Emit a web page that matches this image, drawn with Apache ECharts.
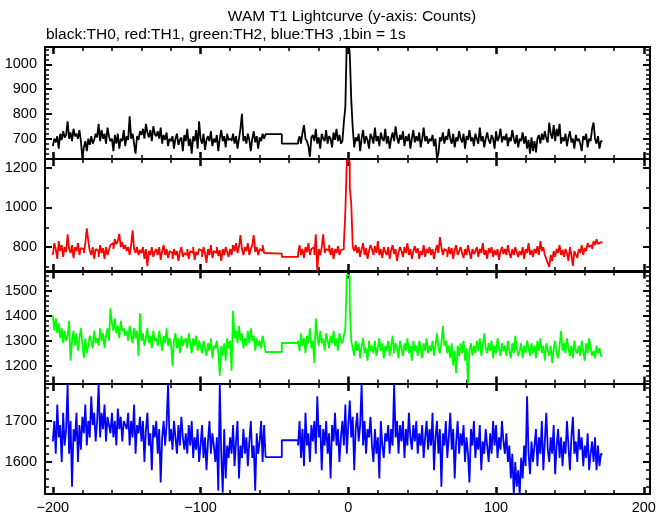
<!DOCTYPE html>
<html><head><meta charset="utf-8">
<script src="https://cdn.jsdelivr.net/npm/echarts@6/dist/echarts.min.js"></script>
<style>html,body{margin:0;padding:0;background:#fff}#c{width:669px;height:515px}</style>
</head><body><div id="c"></div>
<script>
// ---- DATA (1 s bins) ----
const preStart = -200;          // first bin before data gap
const gapTimes = [-56, -45];    // two long bins across the gap
const postStart = -34;          // first bin after gap
const xTickLabels = [-200, -100, 0, 100, 200];

const th0Pre = [
670,700,685,710,660,720,695,730,705,715,
770,700,725,690,740,710,720,700,735,690,
620,665,690,650,700,675,710,680,695,720,
705,760,690,735,700,720,680,745,710,690,
700,650,715,680,720,660,700,690,735,670,
710,695,790,700,720,680,640,710,695,730,
715,740,700,760,725,705,735,690,750,720,
710,730,700,745,680,715,695,725,670,700,
690,710,660,700,720,675,695,705,650,715,
690,740,670,700,640,710,690,735,660,770,
700,680,720,655,695,710,690,730,670,700,
685,715,650,700,735,690,710,665,720,695,
700,690,720,680,710,660,700,740,800,690,
710,680,720,695,650,700,730,685,710,660,
705,690,720,700];
const th0Gap = [718, 680];
const th0Post = [
690,710,680,725,755,700,690,670,627,705,
715,690,740,680,705,660,720,700,690,735,
680,710,700,665,725,695,740,690,715,680,
690,768,829,1110,1100,1040,856,743,665,705,
690,720,650,700,735,680,710,695,660,720,
705,680,745,690,710,670,725,700,690,740,
680,710,660,700,725,690,750,705,680,715,
695,730,670,710,690,720,660,700,735,685,
710,690,725,665,700,745,690,710,680,700,
690,715,670,700,620,640,705,690,725,680,
710,695,740,700,680,720,665,705,690,730,
700,685,720,660,710,695,735,690,705,670,
720,700,680,745,690,710,665,700,725,695,
680,715,700,660,730,690,705,740,685,710,
695,720,670,705,690,735,700,680,715,665,
700,690,725,680,710,660,695,640,705,650,
690,645,700,715,680,720,695,730,700,685,
765,720,700,755,690,740,710,760,680,705,
690,720,670,705,730,685,700,660,715,690,
700,680,650,710,695,720,665,700,690,740,
765,700,680,710,660,690];

const th1Pre = [
760,820,790,740,830,780,810,750,800,775,
864,790,770,810,745,800,780,820,760,795,
790,770,820,894,830,780,760,800,740,790,
780,750,810,770,795,740,800,760,785,810,
820,790,840,815,830,867,800,825,790,810,
780,800,760,810,884,790,770,800,760,785,
770,800,740,790,704,780,760,800,750,775,
790,760,800,735,780,810,760,790,745,780,
770,740,790,760,780,730,775,800,750,770,
760,790,740,780,770,800,735,775,760,790,
780,750,800,770,720,790,760,810,745,780,
770,800,755,785,730,790,760,800,775,750,
790,760,810,780,820,770,800,860,790,760,
800,780,820,760,790,810,860,775,800,760,
790,780,810,770];
const th1Gap = [767, 750];
const th1Post = [
770,810,760,790,745,800,775,820,760,790,
800,760,864,679,790,760,800,864,770,790,
780,810,760,795,740,790,770,805,760,785,
790,820,981,1240,1230,1100,1020,800,780,810,
770,800,750,790,820,760,795,740,780,810,
790,760,805,770,830,760,790,745,800,775,
760,800,740,785,810,765,790,730,775,800,
780,750,800,770,820,760,790,740,780,805,
770,795,740,780,760,810,750,790,770,800,
760,790,740,780,810,770,850,800,760,790,
780,750,800,765,795,740,785,810,760,780,
800,770,745,790,760,810,775,740,790,765,
780,800,750,790,770,820,760,785,740,795,
770,800,750,785,760,790,735,780,800,765,
790,760,810,770,745,790,760,800,775,750,
780,760,800,740,790,770,820,760,785,750,
790,770,805,760,830,780,800,760,740,720,
700,760,730,780,750,790,770,810,760,785,
750,790,770,730,800,760,705,780,760,745,
790,770,810,760,795,780,820,800,810,790,
830,810,840,815,825,820];

const th2Pre = [
1400,1340,1390,1330,1370,1310,1350,1290,1340,1300,
1320,1380,1220,1300,1340,1280,1330,1260,1310,1350,
1290,1230,1310,1250,1280,1320,1300,1270,1340,1290,
1310,1280,1350,1300,1330,1270,1320,1350,1300,1430,
1370,1340,1390,1330,1360,1310,1380,1340,1350,1320,
1340,1300,1360,1320,1290,1350,1310,1340,1240,1410,
1300,1330,1280,1310,1350,1290,1320,1270,1340,1300,
1310,1280,1340,1300,1260,1320,1290,1350,1280,1310,
1290,1200,1300,1330,1270,1310,1250,1320,1280,1300,
1310,1270,1330,1290,1250,1310,1280,1320,1260,1300,
1280,1250,1300,1270,1240,1290,1260,1310,1230,1280,
1270,1300,1250,1160,1280,1240,1290,1220,1310,1270,
1300,1180,1420,1310,1340,1290,1360,1300,1330,1270,
1310,1280,1340,1290,1350,1300,1320,1260,1310,1280,
1300,1270,1320,1290];
const th2Gap = [1255, 1291];
const th2Post = [
1300,1260,1330,1280,1310,1250,1320,1290,1350,1270,
1300,1210,1390,1320,1280,1340,1290,1310,1260,1330,
1300,1270,1320,1290,1340,1280,1310,1260,1330,1300,
1290,1320,1350,1565,1560,1430,1300,1270,1240,1300,
1260,1290,1230,1280,1310,1250,1270,1220,1300,1260,
1280,1250,1300,1240,1270,1310,1260,1290,1230,1280,
1260,1300,1240,1280,1320,1250,1290,1270,1230,1300,
1270,1240,1290,1260,1310,1250,1280,1220,1300,1260,
1280,1240,1300,1270,1230,1290,1260,1310,1250,1280,
1260,1300,1240,1280,1330,1270,1250,1290,1360,1280,
1300,1250,1280,1230,1290,1200,1260,1170,1280,1240,
1290,1250,1300,1220,1270,1130,1260,1290,1240,1280,
1250,1300,1260,1310,1240,1280,1330,1270,1250,1290,
1260,1300,1230,1280,1250,1310,1270,1240,1290,1260,
1280,1240,1300,1260,1230,1290,1250,1320,1270,1240,
1260,1290,1230,1280,1250,1300,1270,1240,1290,1250,
1280,1230,1300,1260,1310,1250,1280,1220,1290,1260,
1240,1280,1210,1270,1300,1250,1230,1280,1340,1260,
1290,1250,1310,1270,1240,1280,1230,1300,1260,1250,
1280,1240,1300,1260,1220,1290,1250,1310,1270,1240,
1260,1230,1280,1250,1270,1240];

const th3Pre = [
1650,1700,1620,1740,1660,1690,1600,1720,1640,1680,
1790,1620,1700,1540,1680,1650,1720,1600,1690,1630,
1710,1670,1740,1640,1700,1660,1760,1690,1720,1650,
1700,1790,1660,1720,1680,1740,1650,1710,1690,1670,
1720,1660,1700,1640,1730,1680,1710,1650,1700,1690,
1680,1720,1640,1700,1660,1740,1620,1690,1670,1710,
1650,1700,1600,1680,1720,1640,1670,1580,1690,1660,
1700,1620,1680,1550,1660,1700,1640,1690,1790,1650,
1680,1630,1700,1660,1620,1690,1640,1710,1660,1630,
1670,1620,1690,1640,1700,1610,1660,1630,1680,1600,
1640,1690,1610,1660,1580,1650,1700,1620,1670,1640,
1600,1660,1530,1790,1620,1525,1680,1560,1640,1610,
1660,1620,1690,1590,1650,1700,1560,1640,1610,1680,
1620,1660,1590,1650,1700,1610,1640,1530,1670,1620,
1650,1700,1600,1690];
const th3Gap = [1612, 1653];
const th3Post = [
1640,1700,1610,1680,1590,1720,1640,1670,1600,1690,
1650,1700,1620,1760,1660,1690,1580,1680,1640,1700,
1620,1670,1560,1690,1650,1720,1640,1680,1600,1660,
1700,1640,1740,1620,1690,1750,1660,1710,1580,1680,
1720,1650,1690,1790,1640,1700,1620,1680,1660,1710,
1640,1600,1680,1620,1660,1560,1700,1640,1610,1670,
1650,1690,1620,1680,1640,1790,1660,1700,1620,1690,
1650,1700,1610,1680,1640,1720,1660,1630,1690,1650,
1700,1620,1670,1640,1690,1610,1660,1700,1630,1680,
1640,1720,1580,1660,1700,1620,1680,1540,1670,1640,
1700,1610,1660,1720,1630,1680,1560,1650,1700,1620,
1670,1640,1690,1600,1660,1620,1550,1680,1640,1700,
1610,1660,1630,1690,1580,1650,1620,1680,1640,1600,
1670,1620,1700,1640,1690,1610,1660,1630,1700,1650,
1620,1670,1600,1640,1560,1620,1520,1600,1540,1580,
1520,1610,1560,1640,1590,1760,1620,1570,1650,1600,
1640,1680,1590,1660,1620,1700,1580,1650,1720,1630,
1600,1660,1620,1690,1570,1640,1680,1610,1660,1590,
1650,1620,1700,1640,1580,1660,1710,1620,1650,1600,
1680,1630,1660,1590,1640,1610,1670,1580,1620,1650,
1600,1660,1580,1640,1590,1620];

// y ranges and tick labels per panel
const yRanges = [[618, 1070], [679, 1245], [1129, 1577], [1522, 1790]];
const yLabelValues = [[700, 800, 900, 1000], [800, 1000, 1200], [1200, 1300, 1400, 1500], [1600, 1700]];
const yMinorStep = [20, 100, 20, 20];
const colors = ['#000000', '#ff0000', '#00ff00', '#0000ff'];
const panelData = [
  [th0Pre, th0Gap, th0Post],
  [th1Pre, th1Gap, th1Post],
  [th2Pre, th2Gap, th2Post],
  [th3Pre, th3Gap, th3Post]
];

// ---- build ----
function buildSeriesData(pre, gap, post) {
  const d = [];
  pre.forEach((v, i) => d.push([preStart + i, v]));
  d.push([gapTimes[0], gap[0]]);
  d.push([gapTimes[1], gap[1]]);
  post.forEach((v, i) => d.push([postStart + i, v]));
  d.push([postStart + post.length, post[post.length - 1]]);
  return d;
}
function minorValues(lo, hi, step, exclude) {
  const out = [];
  for (let v = Math.ceil(lo / step) * step; v <= hi; v += step) {
    if (exclude.indexOf(v) < 0) out.push(v);
  }
  return out;
}

const FONT = '"Liberation Sans", Arial, Helvetica, sans-serif';
const X_MIN = -205.3, X_MAX = 204.2;
const gridTops = [47, 159, 271.5, 384];
const gridH = 112;
const xMinor = minorValues(-200, 200, 20, xTickLabels);
const fmtX = v => String(v).replace('-', '\u2212');
const fmtY = v => String(v);

const grids = [], xAxes = [], yAxes = [], series = [];
for (let p = 0; p < 4; p++) {
  grids.push({ left: 45, width: 605, top: gridTops[p], height: gridH, containLabel: false });
  const xBase = xAxes.length, yBase = yAxes.length;
  ['bottom', 'top'].forEach(pos => {
    xAxes.push({
      type: 'value', gridIndex: p, position: pos, min: X_MIN, max: X_MAX,
      axisLine: { show: true, onZero: false, lineStyle: { color: '#000', width: 2 } },
      axisTick: { show: true, inside: true, length: 7, customValues: xTickLabels, lineStyle: { color: '#000', width: 2.5 } },
      axisLabel: { show: p === 3 && pos === 'bottom', customValues: xTickLabels, formatter: fmtX, color: '#000', fontSize: 14.5, fontFamily: FONT, margin: 6 },
      splitLine: { show: false }
    });
    xAxes.push({
      type: 'value', gridIndex: p, position: pos, min: X_MIN, max: X_MAX,
      axisLine: { show: false, onZero: false },
      axisTick: { show: true, inside: true, length: 4, customValues: xMinor, lineStyle: { color: '#000', width: 1.5 } },
      axisLabel: { show: false }, splitLine: { show: false }
    });
  });
  const [ymin, ymax] = yRanges[p];
  const yMin = minorValues(ymin, ymax, yMinorStep[p], yLabelValues[p]);
  ['left', 'right'].forEach(pos => {
    yAxes.push({
      type: 'value', gridIndex: p, position: pos, min: ymin, max: ymax,
      axisLine: { show: true, onZero: false, lineStyle: { color: '#000', width: 2 } },
      axisTick: { show: true, inside: true, length: 7, customValues: yLabelValues[p], lineStyle: { color: '#000', width: 2 } },
      axisLabel: { show: pos === 'left', customValues: yLabelValues[p], formatter: fmtY, color: '#000', fontSize: 14.5, fontFamily: FONT, margin: 8 },
      splitLine: { show: false }
    });
    yAxes.push({
      type: 'value', gridIndex: p, position: pos, min: ymin, max: ymax,
      axisLine: { show: false, onZero: false },
      axisTick: { show: true, inside: true, length: 4, customValues: yMin, lineStyle: { color: '#000', width: 1.5 } },
      axisLabel: { show: false }, splitLine: { show: false }
    });
  });
  const [pre, gap, post] = panelData[p];
  series.push({
    type: 'line', xAxisIndex: xBase, yAxisIndex: yBase, step: 'end',
    data: buildSeriesData(pre, gap, post), showSymbol: false, symbol: 'none',
    lineStyle: { color: colors[p], width: 1.8 }, itemStyle: { color: colors[p] },
    clip: true, animation: false, silent: true
  });
}

const chart = echarts.init(document.getElementById('c'), null, { renderer: 'canvas' });
chart.setOption({
  animation: false,
  backgroundColor: '#ffffff',
  grid: grids, xAxis: xAxes, yAxis: yAxes, series: series,
  graphic: [
    { type: 'text', x: 352, y: 17, style: { text: 'WAM T1 Lightcurve (y-axis: Counts)', fill: '#000', font: '15.5px ' + FONT, align: 'center', verticalAlign: 'middle' } },
    { type: 'text', x: 46, y: 35, style: { text: 'black:TH0, red:TH1, green:TH2, blue:TH3 ,1bin = 1s', fill: '#000', font: '15.5px ' + FONT, align: 'left', verticalAlign: 'middle' } }
  ]
});
</script></body></html>
